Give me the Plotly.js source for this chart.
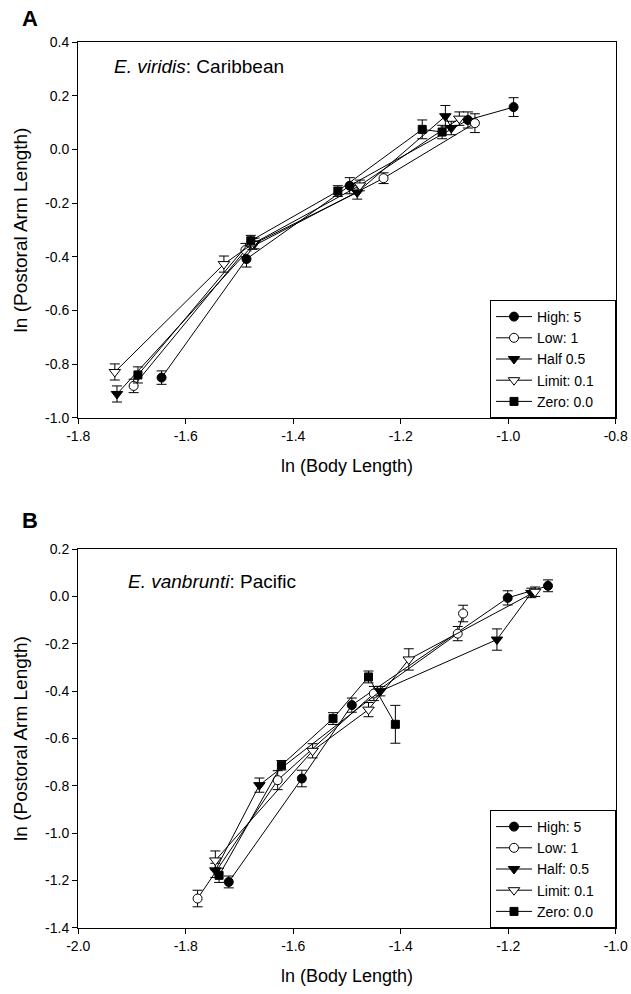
<!DOCTYPE html>
<html>
<head>
<meta charset="utf-8">
<script src="https://cdn.plot.ly/plotly-3.0.1.min.js"></script>
<style>html,body{margin:0;padding:0;background:#fff;}#chart{width:631px;height:994px;}</style>
</head>
<body>
<div id="chart"></div>
<script>
// ---- Panel A: E. viridis, Caribbean ----
const seriesNamesA = ['High: 5', 'Low: 1', 'Half 0.5', 'Limit: 0.1', 'Zero: 0.0'];
const aHighX = [-1.645, -1.487, -1.295, -1.075, -0.990];
const aHighY = [-0.850, -0.408, -0.135, 0.110, 0.158];
const aHighE = [0.025, 0.030, 0.030, 0.030, 0.035];
const aLowX = [-1.697, -1.489, -1.232, -1.062];
const aLowY = [-0.881, -0.375, -0.107, 0.098];
const aLowE = [0.025, 0.025, 0.020, 0.035];
const aHalfX = [-1.728, -1.472, -1.281, -1.117, -1.106];
const aHalfY = [-0.911, -0.350, -0.160, 0.124, 0.080];
const aHalfE = [0.030, 0.020, 0.025, 0.040, 0.025];
const aLimitX = [-1.732, -1.529, -1.476, -1.276, -1.091];
const aLimitY = [-0.829, -0.427, -0.352, -0.134, 0.115];
const aLimitE = [0.030, 0.030, 0.020, 0.020, 0.025];
const aZeroX = [-1.689, -1.479, -1.317, -1.160, -1.123];
const aZeroY = [-0.840, -0.340, -0.155, 0.075, 0.065];
const aZeroE = [0.030, 0.020, 0.020, 0.035, 0.025];

// ---- Panel B: E. vanbrunti, Pacific ----
const seriesNamesB = ['High: 5', 'Low: 1', 'Half: 0.5', 'Limit: 0.1', 'Zero: 0.0'];
const bHighX = [-1.720, -1.584, -1.491, -1.201, -1.126];
const bHighY = [-1.206, -0.769, -0.459, -0.006, 0.045];
const bHighE = [0.025, 0.035, 0.030, 0.030, 0.025];
const bLowX = [-1.778, -1.629, -1.450, -1.294, -1.284];
const bLowY = [-1.276, -0.776, -0.410, -0.157, -0.072];
const bLowE = [0.035, 0.040, 0.030, 0.030, 0.035];
const bHalfX = [-1.745, -1.663, -1.438, -1.221, -1.157];
const bHalfY = [-1.157, -0.797, -0.400, -0.182, 0.015];
const bHalfE = [0.030, 0.030, 0.020, 0.045, 0.020];
const bLimitX = [-1.745, -1.564, -1.460, -1.385, -1.150];
const bLimitY = [-1.115, -0.652, -0.478, -0.266, 0.020];
const bLimitE = [0.040, 0.030, 0.030, 0.045, 0.020];
const bZeroX = [-1.738, -1.622, -1.526, -1.460, -1.410];
const bZeroY = [-1.178, -0.713, -0.516, -0.340, -0.540];
const bZeroE = [0.030, 0.020, 0.025, 0.025, 0.080];

// ---- tick labels ----
const aXTicks = [-1.8, -1.6, -1.4, -1.2, -1.0, -0.8];
const aXTickText = ['-1.8', '-1.6', '-1.4', '-1.2', '-1.0', '-0.8'];
const aYTicks = [0.4, 0.2, 0.0, -0.2, -0.4, -0.6, -0.8, -1.0];
const aYTickText = ['0.4', '0.2', '0.0', '-0.2', '-0.4', '-0.6', '-0.8', '-1.0'];
const bXTicks = [-2.0, -1.8, -1.6, -1.4, -1.2, -1.0];
const bXTickText = ['-2.0', '-1.8', '-1.6', '-1.4', '-1.2', '-1.0'];
const bYTicks = [0.2, 0.0, -0.2, -0.4, -0.6, -0.8, -1.0, -1.2, -1.4];
const bYTickText = ['0.2', '0.0', '-0.2', '-0.4', '-0.6', '-0.8', '-1.0', '-1.2', '-1.4'];

const symbols = ['circle', 'circle-open', 'triangle-down', 'triangle-down-open', 'square'];
const sizes = [9, 9, 10, 10, 8];
const pad = '\u00a0\u00a0\u00a0\u00a0';

function mk(name, x, y, e, i, xa, ya, lg) {
  const open = symbols[i].indexOf('-open') >= 0;
  return {
    type: 'scatter', mode: 'lines+markers', name: name + pad, x: x, y: y,
    xaxis: xa, yaxis: ya, legend: lg,
    line: {color: '#000', width: 1},
    marker: {symbol: symbols[i].replace('-open', ''), size: sizes[i], color: open ? '#fff' : '#000',
      line: {color: '#000', width: 1}},
    error_y: {type: 'data', array: e, visible: true, color: '#000', thickness: 1, width: 5},
    cliponaxis: false
  };
}

const data = [
  mk(seriesNamesA[0], aHighX, aHighY, aHighE, 0, 'x', 'y', 'legend'),
  mk(seriesNamesA[1], aLowX, aLowY, aLowE, 1, 'x', 'y', 'legend'),
  mk(seriesNamesA[2], aHalfX, aHalfY, aHalfE, 2, 'x', 'y', 'legend'),
  mk(seriesNamesA[3], aLimitX, aLimitY, aLimitE, 3, 'x', 'y', 'legend'),
  mk(seriesNamesA[4], aZeroX, aZeroY, aZeroE, 4, 'x', 'y', 'legend'),
  mk(seriesNamesB[0], bHighX, bHighY, bHighE, 0, 'x2', 'y2', 'legend2'),
  mk(seriesNamesB[1], bLowX, bLowY, bLowE, 1, 'x2', 'y2', 'legend2'),
  mk(seriesNamesB[2], bHalfX, bHalfY, bHalfE, 2, 'x2', 'y2', 'legend2'),
  mk(seriesNamesB[3], bLimitX, bLimitY, bLimitE, 3, 'x2', 'y2', 'legend2'),
  mk(seriesNamesB[4], bZeroX, bZeroY, bZeroE, 4, 'x2', 'y2', 'legend2')
];

const W = 631, H = 994;
const fam = 'Liberation Sans, Arial, sans-serif';
const font = {family: fam, color: '#000'};
function f(sz) { return {family: fam, color: '#000', size: sz}; }
function axisBase(extra) {
  return Object.assign({
    showline: true, linecolor: '#000', linewidth: 1, mirror: true,
    ticks: 'outside', ticklen: 5, tickcolor: '#000', tickwidth: 1,
    showgrid: false, zeroline: false, automargin: false,
    ticklabeloverflow: 'allow',
    tickfont: f(14), tickmode: 'array'
  }, extra);
}
const xd = [78 / W, 616 / W];
const eps = 0.0005;
const layout = {
  width: W, height: H,
  margin: {l: 0, r: 0, t: 0, b: 0},
  paper_bgcolor: '#fff', plot_bgcolor: '#fff',
  font: font,
  showlegend: true,
  xaxis: axisBase({domain: xd, anchor: 'y', range: [-1.8 - eps, -0.8 + eps], tickvals: aXTicks, ticktext: aXTickText,
    title: {text: 'ln (Body Length)', font: f(18), standoff: 16}}),
  yaxis: axisBase({domain: [1 - 418 / H, 1 - 42 / H], anchor: 'x', range: [-1.0 - eps, 0.4 + eps], tickvals: aYTicks, ticktext: aYTickText,
    title: {text: 'ln (Postoral Arm Length)', font: f(19), standoff: 12}}),
  xaxis2: axisBase({domain: xd, anchor: 'y2', range: [-2.0 - eps, -1.0 + eps], tickvals: bXTicks, ticktext: bXTickText,
    title: {text: 'ln (Body Length)', font: f(18), standoff: 16}}),
  yaxis2: axisBase({domain: [1 - 928 / H, 1 - 549 / H], anchor: 'x2', range: [-1.4 - eps, 0.2 + eps], tickvals: bYTicks, ticktext: bYTickText,
    title: {text: 'ln (Postoral Arm Length)', font: f(19), standoff: 12}}),
  legend: {x: xd[1], y: 1 - 418 / H, xanchor: 'right', yanchor: 'bottom', bgcolor: '#fff',
    bordercolor: '#000', borderwidth: 1, font: f(14), tracegroupgap: 0, itemwidth: 36},
  legend2: {x: xd[1], y: 1 - 928 / H, xanchor: 'right', yanchor: 'bottom', bgcolor: '#fff',
    bordercolor: '#000', borderwidth: 1, font: f(14), tracegroupgap: 0, itemwidth: 36},
  annotations: [
    {text: '<b>A</b>', xref: 'paper', yref: 'paper', x: 20 / W, y: 1 - 18 / H, xanchor: 'left', yanchor: 'middle', showarrow: false, font: f(22)},
    {text: '<b>B</b>', xref: 'paper', yref: 'paper', x: 20 / W, y: 1 - 520 / H, xanchor: 'left', yanchor: 'middle', showarrow: false, font: f(22)},
    {text: '<i>E. viridis</i>: Caribbean', xref: 'paper', yref: 'paper', x: 112 / W, y: 1 - 67 / H, xanchor: 'left', yanchor: 'middle', showarrow: false, font: f(19)},
    {text: '<i>E. vanbrunti</i>: Pacific', xref: 'paper', yref: 'paper', x: 126 / W, y: 1 - 581 / H, xanchor: 'left', yanchor: 'middle', showarrow: false, font: f(19)}
  ]
};
Plotly.newPlot('chart', data, layout, {staticPlot: true, displayModeBar: false});
</script>
</body>
</html>
